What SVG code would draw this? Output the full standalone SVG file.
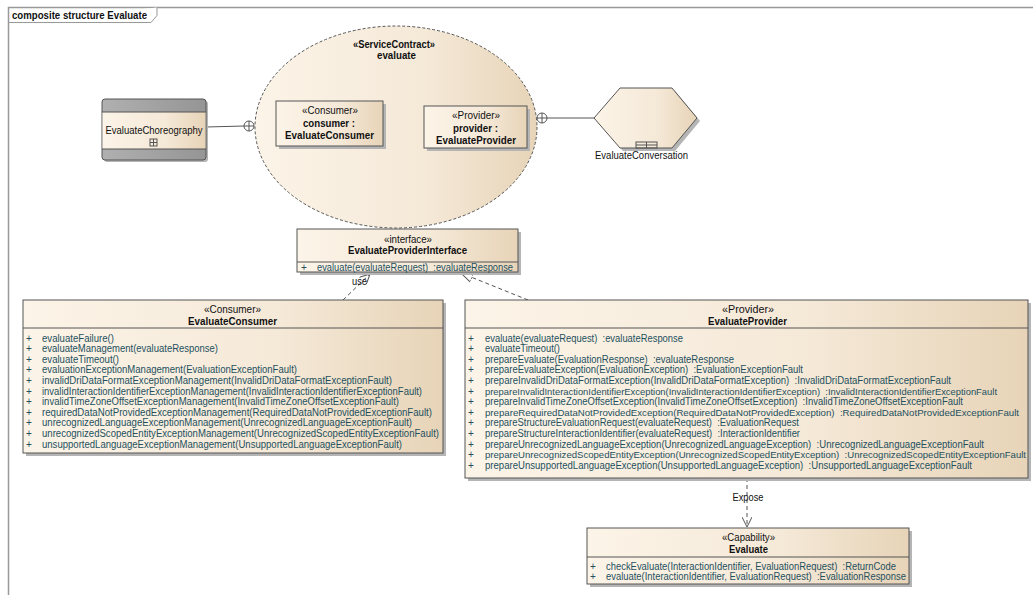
<svg xmlns="http://www.w3.org/2000/svg" width="1033" height="595" viewBox="0 0 1033 595">
<style>
text{font-family:"Liberation Sans",Arial,sans-serif;font-size:10.5px;fill:#111;white-space:pre}
.b{font-weight:bold}
.c{text-anchor:middle}
.op{font-size:10px;fill:#24505e}
.sm{font-size:9.6px}
.box{stroke:#555;stroke-width:1;fill:url(#g)}
.sh{fill:#b5b5b5}
.ln{stroke:#555;stroke-width:1;fill:none}
.dash{stroke:#555;stroke-width:1;fill:none;stroke-dasharray:4,3}
</style>
<defs>
<linearGradient id="g" x1="0" y1="0" x2="1" y2="0">
<stop offset="0" stop-color="#FCF4E8"/>
<stop offset="0.6" stop-color="#F5E9D8"/>
<stop offset="1" stop-color="#E7D4B8"/>
</linearGradient>
<linearGradient id="gg" x1="0" y1="0" x2="1" y2="0">
<stop offset="0" stop-color="#b0b0b0"/>
<stop offset="1" stop-color="#959595"/>
</linearGradient>
<marker id="open" viewBox="0 0 10 10" refX="10" refY="5" markerWidth="10" markerHeight="10" markerUnits="userSpaceOnUse" orient="auto">
<path d="M0,0 L10,5 L0,10" fill="none" stroke="#555" stroke-width="1"/>
</marker>
<marker id="tri" viewBox="0 0 12 12" refX="12" refY="6" markerWidth="12" markerHeight="12" markerUnits="userSpaceOnUse" orient="auto">
<path d="M0,1 L12,6 L0,11 Z" fill="#fff" stroke="#555" stroke-width="1"/>
</marker>
</defs>
<rect x="0" y="0" width="1033" height="595" fill="#fff"/>

<g id="frame">
<path d="M8.5,595 V7.5 H1033" stroke="#999" stroke-width="1.5" fill="none"/>
<path d="M8.5,22.5 H151 L157,15.5 V7.5" stroke="#999" fill="#fff"/>
<text x="12" y="19" class="b" textLength="135" lengthAdjust="spacingAndGlyphs">composite structure Evaluate</text>
</g>

<g id="connectors">
<line class="ln" x1="206" y1="127" x2="244" y2="126"/>
<circle cx="249" cy="126" r="5" fill="none" stroke="#555"/>
<path class="ln" d="M244,126 H254 M249,121 V131"/>
<line class="ln" x1="383" y1="125" x2="424" y2="126"/>
<circle cx="542" cy="118" r="5" fill="none" stroke="#555"/>
<path class="ln" d="M537,118 H547 M542,113 V123"/>
<line class="ln" x1="547" y1="118" x2="594" y2="118"/>
<line class="dash" x1="343" y1="300" x2="370" y2="274" marker-end="url(#open)"/>
<text x="352" y="285" textLength="15" lengthAdjust="spacingAndGlyphs">use</text>
<line class="dash" x1="528" y1="300" x2="461" y2="273" marker-end="url(#tri)"/>
<line class="dash" x1="747" y1="478" x2="747" y2="527" marker-end="url(#open)"/>
<text x="748" y="501" class="c" textLength="31" lengthAdjust="spacingAndGlyphs">Expose</text>
</g>

<g id="EvaluateChoreography">
<rect x="104" y="101" width="104" height="61" rx="3" class="sh"/>
<rect x="102" y="99" width="104" height="61" rx="3" fill="url(#gg)" stroke="#555"/>
<rect x="102.5" y="112" width="103" height="37" fill="url(#g)"/>
<line class="ln" x1="102" y1="112" x2="206" y2="112"/>
<line class="ln" x1="102" y1="149" x2="206" y2="149"/>
<text x="154" y="134" class="c" textLength="97" lengthAdjust="spacingAndGlyphs">EvaluateChoreography</text>
<rect x="150" y="139" width="7" height="7" fill="none" stroke="#555"/>
<path class="ln" d="M150,142.5 H157 M153.5,139 V146"/>
</g>

<g id="evaluate">
<ellipse cx="396" cy="127" rx="141" ry="101" fill="url(#g)" stroke="#555" stroke-dasharray="3,2"/>
<text x="394" y="48" class="c b" textLength="82" lengthAdjust="spacingAndGlyphs">«ServiceContract»</text>
<text x="396.5" y="59" class="c b" textLength="39" lengthAdjust="spacingAndGlyphs">evaluate</text>
</g>

<g id="consumer">
<rect x="279" y="104" width="107" height="45" class="sh"/>
<rect x="276" y="101" width="107" height="45" class="box"/>
<text x="330" y="114" class="c" textLength="56" lengthAdjust="spacingAndGlyphs">«Consumer»</text>
<text x="329" y="127" class="c b" textLength="52" lengthAdjust="spacingAndGlyphs">consumer :</text>
<text x="329.5" y="139" class="c b" textLength="89" lengthAdjust="spacingAndGlyphs">EvaluateConsumer</text>
</g>

<g id="provider">
<rect x="427" y="109" width="103" height="42" class="sh"/>
<rect x="424" y="106" width="103" height="42" class="box"/>
<text x="476" y="119" class="c" textLength="48" lengthAdjust="spacingAndGlyphs">«Provider»</text>
<text x="475.5" y="132" class="c b" textLength="45" lengthAdjust="spacingAndGlyphs">provider :</text>
<text x="476" y="144" class="c b" textLength="80" lengthAdjust="spacingAndGlyphs">EvaluateProvider</text>
</g>

<g id="EvaluateConversation">
<polygon points="597,121 623,91 675,91 700,121 675,151 623,151" class="sh"/>
<polygon points="594,118 620,88 672,88 697,118 672,148 620,148" class="box"/>
<rect x="636" y="142" width="21" height="6" fill="none" stroke="#555"/>
<path class="ln" d="M636,145 H657 M646.5,142 V148"/>
<text x="641.5" y="159" class="c" textLength="93" lengthAdjust="spacingAndGlyphs">EvaluateConversation</text>
</g>

<g id="EvaluateProviderInterface">
<rect x="300" y="232" width="221" height="43" class="sh"/>
<rect x="297" y="229" width="221" height="43" class="box"/>
<line class="ln" x1="297" y1="262" x2="518" y2="262"/>
<text x="408" y="243" class="c" textLength="48" lengthAdjust="spacingAndGlyphs">«interface»</text>
<text x="407.5" y="254" class="c b" textLength="119" lengthAdjust="spacingAndGlyphs">EvaluateProviderInterface</text>
<text x="301" y="270.5" class="op">+</text>
<text x="317" y="270.5" class="op" textLength="196" lengthAdjust="spacingAndGlyphs">evaluate(evaluateRequest)  :evaluateResponse</text>
</g>

<g id="EvaluateConsumer">
<rect x="26" y="303" width="420" height="153" class="sh"/>
<rect x="23" y="300" width="420" height="153" class="box"/>
<line class="ln" x1="23" y1="328" x2="443" y2="328"/>
<text x="232.5" y="313" class="c" textLength="57" lengthAdjust="spacingAndGlyphs">«Consumer»</text>
<text x="232.5" y="325" class="c b" textLength="89" lengthAdjust="spacingAndGlyphs">EvaluateConsumer</text>
<text x="26" y="341.5" class="op">+</text><text x="42" y="341.5" class="op" textLength="72" lengthAdjust="spacingAndGlyphs">evaluateFailure()</text>
<text x="26" y="352.1" class="op">+</text><text x="42" y="352.1" class="op" textLength="176" lengthAdjust="spacingAndGlyphs">evaluateManagement(evaluateResponse)</text>
<text x="26" y="362.7" class="op">+</text><text x="42" y="362.7" class="op" textLength="77" lengthAdjust="spacingAndGlyphs">evaluateTimeout()</text>
<text x="26" y="373.3" class="op">+</text><text x="42" y="373.3" class="op" textLength="255" lengthAdjust="spacingAndGlyphs">evaluationExceptionManagement(EvaluationExceptionFault)</text>
<text x="26" y="383.9" class="op">+</text><text x="42" y="383.9" class="op" textLength="350" lengthAdjust="spacingAndGlyphs">invalidDriDataFormatExceptionManagement(InvalidDriDataFormatExceptionFault)</text>
<text x="26" y="394.5" class="op">+</text><text x="42" y="394.5" class="op" textLength="380" lengthAdjust="spacingAndGlyphs">invalidInteractionIdentifierExceptionManagement(InvalidInteractionIdentifierExceptionFault)</text>
<text x="26" y="405.1" class="op">+</text><text x="42" y="405.1" class="op" textLength="357" lengthAdjust="spacingAndGlyphs">invalidTimeZoneOffsetExceptionManagement(InvalidTimeZoneOffsetExceptionFault)</text>
<text x="26" y="415.7" class="op">+</text><text x="42" y="415.7" class="op" textLength="390" lengthAdjust="spacingAndGlyphs">requiredDataNotProvidedExceptionManagement(RequiredDataNotProvidedExceptionFault)</text>
<text x="26" y="426.3" class="op">+</text><text x="42" y="426.3" class="op" textLength="370" lengthAdjust="spacingAndGlyphs">unrecognizedLanguageExceptionManagement(UnrecognizedLanguageExceptionFault)</text>
<text x="26" y="436.9" class="op">+</text><text x="42" y="436.9" class="op" textLength="397" lengthAdjust="spacingAndGlyphs">unrecognizedScopedEntityExceptionManagement(UnrecognizedScopedEntityExceptionFault)</text>
<text x="26" y="447.5" class="op">+</text><text x="42" y="447.5" class="op" textLength="360" lengthAdjust="spacingAndGlyphs">unsupportedLanguageExceptionManagement(UnsupportedLanguageExceptionFault)</text>
</g>

<g id="EvaluateProvider">
<rect x="468" y="303" width="563" height="178" class="sh"/>
<rect x="465" y="300" width="563" height="178" class="box"/>
<line class="ln" x1="465" y1="328" x2="1028" y2="328"/>
<text x="748" y="313" class="c" textLength="52" lengthAdjust="spacingAndGlyphs">«Provider»</text>
<text x="747.5" y="325" class="c b" textLength="79" lengthAdjust="spacingAndGlyphs">EvaluateProvider</text>
<text x="468" y="341.5" class="op">+</text><text x="485" y="341.5" class="op" textLength="198" lengthAdjust="spacingAndGlyphs">evaluate(evaluateRequest)  :evaluateResponse</text>
<text x="468" y="352.1" class="op">+</text><text x="485" y="352.1" class="op" textLength="75" lengthAdjust="spacingAndGlyphs">evaluateTimeout()</text>
<text x="468" y="362.7" class="op">+</text><text x="485" y="362.7" class="op" textLength="249" lengthAdjust="spacingAndGlyphs">prepareEvaluate(EvaluationResponse)  :evaluateResponse</text>
<text x="468" y="373.3" class="op">+</text><text x="485" y="373.3" class="op" textLength="318" lengthAdjust="spacingAndGlyphs">prepareEvaluateException(EvaluationException)  :EvaluationExceptionFault</text>
<text x="468" y="383.9" class="op">+</text><text x="485" y="383.9" class="op" textLength="466" lengthAdjust="spacingAndGlyphs">prepareInvalidDriDataFormatException(InvalidDriDataFormatException)  :InvalidDriDataFormatExceptionFault</text>
<text x="468" y="394.5" class="op">+</text><text x="485" y="394.5" class="op sm" textLength="512" lengthAdjust="spacingAndGlyphs">prepareInvalidInteractionIdentifierException(InvalidInteractionIdentifierException)  :InvalidInteractionIdentifierExceptionFault</text>
<text x="468" y="405.1" class="op">+</text><text x="485" y="405.1" class="op" textLength="478" lengthAdjust="spacingAndGlyphs">prepareInvalidTimeZoneOffsetException(InvalidTimeZoneOffsetException)  :InvalidTimeZoneOffsetExceptionFault</text>
<text x="468" y="415.7" class="op">+</text><text x="485" y="415.7" class="op sm" textLength="534" lengthAdjust="spacingAndGlyphs">prepareRequiredDataNotProvidedException(RequiredDataNotProvidedException)  :RequiredDataNotProvidedExceptionFault</text>
<text x="468" y="426.3" class="op">+</text><text x="485" y="426.3" class="op" textLength="314" lengthAdjust="spacingAndGlyphs">prepareStructureEvaluationRequest(evaluateRequest)  :EvaluationRequest</text>
<text x="468" y="436.9" class="op">+</text><text x="485" y="436.9" class="op" textLength="315" lengthAdjust="spacingAndGlyphs">prepareStructureInteractionIdentifier(evaluateRequest)  :InteractionIdentifier</text>
<text x="468" y="447.5" class="op">+</text><text x="485" y="447.5" class="op" textLength="499" lengthAdjust="spacingAndGlyphs">prepareUnrecognizedLanguageException(UnrecognizedLanguageException)  :UnrecognizedLanguageExceptionFault</text>
<text x="468" y="458.1" class="op">+</text><text x="485" y="458.1" class="op sm" textLength="541" lengthAdjust="spacingAndGlyphs">prepareUnrecognizedScopedEntityException(UnrecognizedScopedEntityException)  :UnrecognizedScopedEntityExceptionFault</text>
<text x="468" y="468.7" class="op">+</text><text x="485" y="468.7" class="op" textLength="487" lengthAdjust="spacingAndGlyphs">prepareUnsupportedLanguageException(UnsupportedLanguageException)  :UnsupportedLanguageExceptionFault</text>
</g>

<g id="Evaluate">
<rect x="590" y="531" width="322" height="56" class="sh"/>
<rect x="587" y="528" width="322" height="56" class="box"/>
<line class="ln" x1="587" y1="557" x2="909" y2="557"/>
<text x="748.5" y="541" class="c" textLength="53" lengthAdjust="spacingAndGlyphs">«Capability»</text>
<text x="748.5" y="552.5" class="c b" textLength="39" lengthAdjust="spacingAndGlyphs">Evaluate</text>
<text x="590" y="569.5" class="op">+</text><text x="606" y="569.5" class="op" textLength="290" lengthAdjust="spacingAndGlyphs">checkEvaluate(InteractionIdentifier, EvaluationRequest)  :ReturnCode</text>
<text x="590" y="580.2" class="op">+</text><text x="606" y="580.2" class="op" textLength="300" lengthAdjust="spacingAndGlyphs">evaluate(InteractionIdentifier, EvaluationRequest)  :EvaluationResponse</text>
</g>
</svg>
